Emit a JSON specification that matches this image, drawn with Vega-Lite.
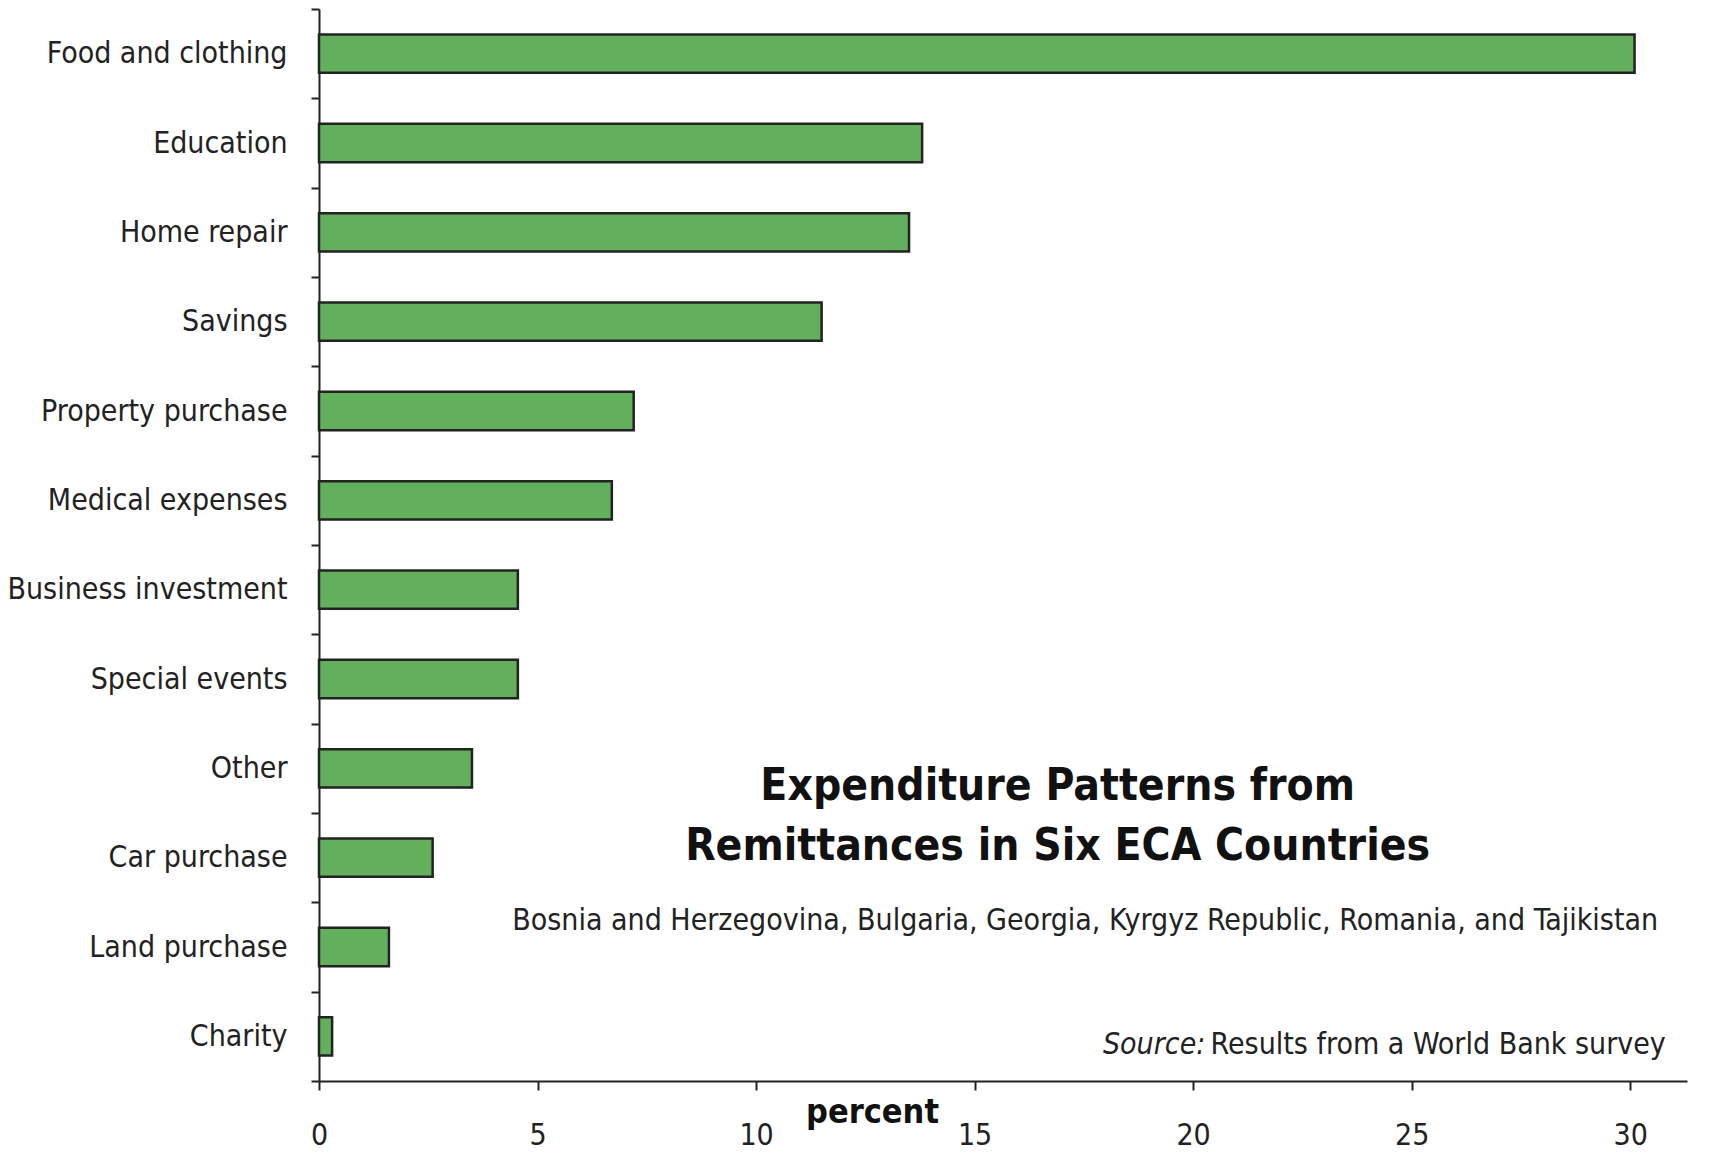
{
  "$schema": "https://vega.github.io/schema/vega-lite/v6.json",
  "autosize": {"type": "none"},
  "width": 1368,
  "height": 1072,
  "padding": {"left": 319, "top": 9, "right": 22, "bottom": 72},
  "background": "white",
  "datasets": {
    "spending": [
      {"use": "Food and clothing", "pct": 30.1},
      {"use": "Education", "pct": 13.8},
      {"use": "Home repair", "pct": 13.5},
      {"use": "Savings", "pct": 11.5},
      {"use": "Property purchase", "pct": 7.2},
      {"use": "Medical expenses", "pct": 6.7},
      {"use": "Business investment", "pct": 4.55},
      {"use": "Special events", "pct": 4.55},
      {"use": "Other", "pct": 3.5},
      {"use": "Car purchase", "pct": 2.6},
      {"use": "Land purchase", "pct": 1.6},
      {"use": "Charity", "pct": 0.3}
    ],
    "heading": [
      {"use": "Other", "pct": 16.9, "text": ["Expenditure Patterns from", "Remittances in Six ECA Countries"]}
    ],
    "countries": [
      {"use": "Land purchase", "pct": 4.42, "text": "Bosnia and Herzegovina, Bulgaria, Georgia, Kyrgyz Republic, Romania, and Tajikistan"}
    ],
    "source_lbl": [
      {"use": "Charity", "pct": 20.28, "text": "Source:"}
    ],
    "source_txt": [
      {"use": "Charity", "pct": 20.4, "text": "Results from a World Bank survey"}
    ]
  },
  "encoding": {
    "y": {
      "field": "use",
      "type": "nominal",
      "sort": null,
      "scale": {"domain": ["Food and clothing", "Education", "Home repair", "Savings", "Property purchase", "Medical expenses", "Business investment", "Special events", "Other", "Car purchase", "Land purchase", "Charity"], "paddingInner": 0, "paddingOuter": 0},
      "axis": {
        "title": null,
        "tickBand": "extent",
        "tickSize": 8,
        "tickWidth": 2,
        "tickColor": "#222",
        "domainColor": "#222",
        "domainWidth": 2,
        "labelFont": "DejaVu Sans Condensed, Roboto, sans-serif",
        "labelFontSize": 30,
        "labelColor": "#222",
        "labelPadding": 24,
        "labelLimit": 400
      }
    },
    "x": {
      "field": "pct",
      "type": "quantitative",
      "scale": {"domain": [0, 31.3], "nice": false},
      "axis": {
        "values": [0, 5, 10, 15, 20, 25, 30],
        "grid": false,
        "labelFlush": false,
        "tickSize": 9,
        "tickWidth": 2,
        "tickColor": "#222",
        "domainColor": "#222",
        "domainWidth": 2,
        "labelFont": "DejaVu Sans Condensed, Roboto, sans-serif",
        "labelFontSize": 30,
        "labelColor": "#222",
        "labelPadding": 30,
        "title": "percent",
        "titleFont": "DejaVu Sans Condensed, Roboto, sans-serif",
        "titleFontSize": 34,
        "titleFontWeight": "bold",
        "titleColor": "#111",
        "titleAnchor": null,
        "titleAlign": "center",
        "titleBaseline": "middle",
        "titleX": 553,
        "titleY": 31
      }
    }
  },
  "layer": [
    {
      "data": {"name": "spending"},
      "mark": {"type": "bar", "height": {"band": 0.43}, "color": "#62b05c", "stroke": "#222", "strokeWidth": 2.5}
    },
    {
      "data": {"name": "heading"},
      "mark": {"type": "text", "align": "center", "baseline": "middle", "dy": 19, "font": "DejaVu Sans Condensed, Roboto, sans-serif", "fontSize": 44, "fontWeight": "bold", "lineHeight": 60, "color": "#111"},
      "encoding": {"text": {"field": "text"}}
    },
    {
      "data": {"name": "countries"},
      "mark": {"type": "text", "align": "left", "baseline": "middle", "dy": -26, "font": "DejaVu Sans Condensed, Roboto, sans-serif", "fontSize": 30, "color": "#222"},
      "encoding": {"text": {"field": "text"}}
    },
    {
      "data": {"name": "source_lbl"},
      "mark": {"type": "text", "align": "right", "baseline": "middle", "dy": 9, "font": "DejaVu Sans Condensed, Roboto, sans-serif", "fontSize": 30, "fontStyle": "italic", "color": "#222"},
      "encoding": {"text": {"field": "text"}}
    },
    {
      "data": {"name": "source_txt"},
      "mark": {"type": "text", "align": "left", "baseline": "middle", "dy": 9, "font": "DejaVu Sans Condensed, Roboto, sans-serif", "fontSize": 30, "color": "#222"},
      "encoding": {"text": {"field": "text"}}
    }
  ],
  "config": {
    "view": {"stroke": null}
  }
}
